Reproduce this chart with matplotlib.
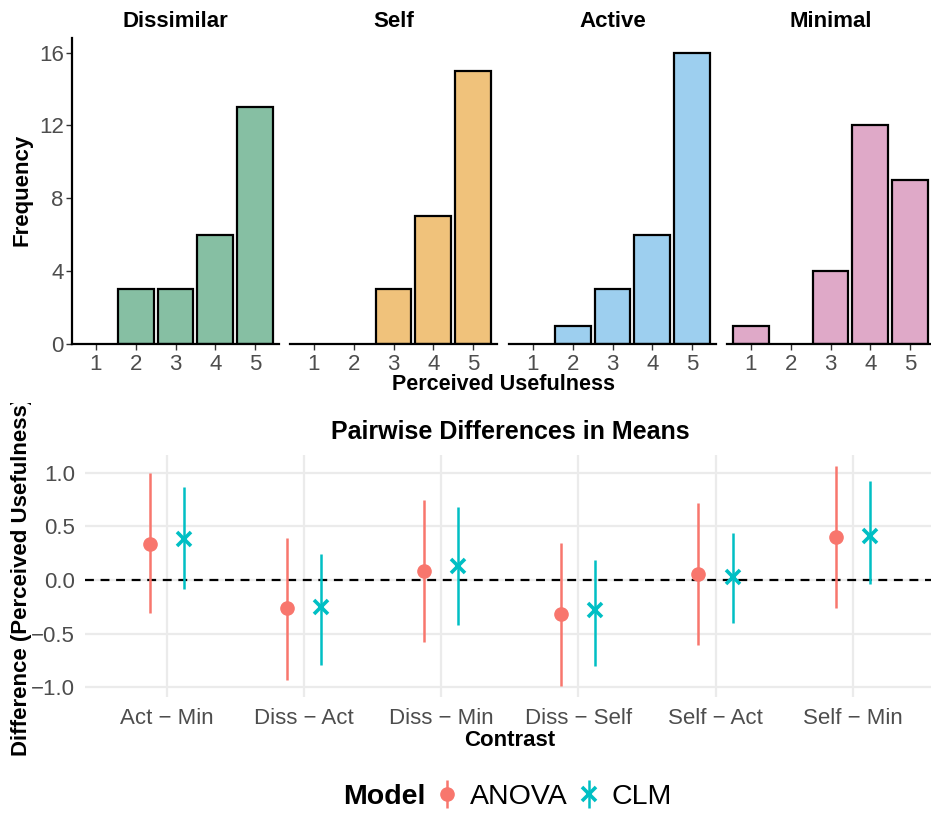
import numpy as np
import matplotlib
matplotlib.use("Agg")
import matplotlib.pyplot as plt
from matplotlib.transforms import Bbox, TransformedBbox

plt.rcParams['font.family'] = ['Liberation Sans', 'DejaVu Sans']

# ---- data ----
scores = [1, 2, 3, 4, 5]
conditions = ["Dissimilar", "Self", "Active", "Minimal"]
counts_dissimilar = [0, 3, 3, 6, 13]
counts_self = [0, 0, 3, 7, 15]
counts_active = [0, 1, 3, 6, 16]
counts_minimal = [1, 0, 4, 12, 9]
bar_colors = ["#86BFA3", "#F0C27B", "#9DCFEF", "#DFA9C8"]

contrasts = ["Act \u2212 Min", "Diss \u2212 Act", "Diss \u2212 Min",
             "Diss \u2212 Self", "Self \u2212 Act", "Self \u2212 Min"]
anova_est = [0.34, -0.265, 0.085, -0.32, 0.06, 0.405]
anova_lo = [-0.31, -0.93, -0.58, -0.99, -0.605, -0.265]
anova_hi = [1.00, 0.395, 0.745, 0.345, 0.715, 1.065]
clm_est = [0.385, -0.255, 0.135, -0.28, 0.03, 0.415]
clm_lo = [-0.085, -0.795, -0.42, -0.80, -0.405, -0.04]
clm_hi = [0.865, 0.24, 0.68, 0.19, 0.435, 0.925]

W, H = 931, 813
fig = plt.figure(figsize=(W / 100, H / 100), dpi=100)

def fx(x):
    return x / W

def fy(y):
    return 1 - y / H

grey = "#4D4D4D"

# ---- top: histograms ----
all_counts = [counts_dissimilar, counts_self, counts_active, counts_minimal]
lefts = [72, 290, 509, 727]
pw = 207
for i, (name, cnt, col) in enumerate(zip(conditions, all_counts, bar_colors)):
    ax = fig.add_axes([fx(lefts[i]), fy(344), pw / W, 306 / H])
    xs = [s for s, c in zip(scores, cnt) if c > 0]
    hs = [c for c in cnt if c > 0]
    ax.bar(xs, hs, width=0.9, color=col, edgecolor="black", linewidth=1.6)
    ax.set_xlim(0.4, 5.6)
    ax.set_ylim(0, 16.8)
    ax.set_xticks(scores)
    ax.tick_params(axis="x", length=4, width=1, color="#333333",
                   labelsize=16, labelcolor=grey, pad=3)
    for s in ["top", "right"]:
        ax.spines[s].set_visible(False)
    ax.spines["bottom"].set_linewidth(1.6)
    if i == 0:
        ax.set_yticks([0, 4, 8, 12, 16])
        ax.tick_params(axis="y", length=4, width=1, color="#333333",
                       labelsize=16, labelcolor=grey, pad=2)
        ax.spines["left"].set_linewidth(1.6)
    else:
        ax.spines["left"].set_visible(False)
        ax.set_yticks([])
    ax.set_title(name, fontsize=16, fontweight="bold", pad=8)

fig.text(fx(22), fy(190), "Frequency", rotation=90, ha="center", va="center",
         fontsize=16, fontweight="bold")
fig.text(fx(503), fy(384), "Perceived Usefulness", ha="center", va="center",
         fontsize=15.5, fontweight="bold")

# ---- bottom: pairwise differences ----
ax2 = fig.add_axes([fx(84.5), fy(697), (935 - 84.5) / W, (697 - 455) / H])
pos = np.arange(1, len(contrasts) + 1)
d = 0.125
eb1 = ax2.errorbar(pos - d, anova_est,
                   yerr=[np.array(anova_est) - np.array(anova_lo),
                         np.array(anova_hi) - np.array(anova_est)],
                   fmt="o", color="#F8766D", ms=9.5, elinewidth=1.8,
                   capsize=0, label="ANOVA", zorder=3)
eb2 = ax2.errorbar(pos + d, clm_est,
                   yerr=[np.array(clm_est) - np.array(clm_lo),
                         np.array(clm_hi) - np.array(clm_est)],
                   fmt="x", color="#00BFC4", ms=10, mew=2.6, elinewidth=1.8,
                   capsize=0, label="CLM", zorder=3)
ax2.axhline(0, color="black", linestyle=(0, (4, 3)), linewidth=1.6, zorder=2)
ax2.set_xlim(0.4, 6.6)
ax2.set_ylim(-1.093, 1.168)
ax2.set_xticks(pos)
ax2.set_xticklabels(contrasts)
ax2.set_yticks([-1.0, -0.5, 0.0, 0.5, 1.0])
ax2.set_yticklabels(["\u22121.0", "\u22120.5", "0.0", "0.5", "1.0"])
ax2.tick_params(length=0, labelsize=16, labelcolor=grey)
ax2.tick_params(axis="x", pad=8)
ax2.tick_params(axis="y", pad=7)
ax2.grid(True, color="#EBEBEB", linewidth=1.6, zorder=0)
ax2.set_axisbelow(True)
for s in ax2.spines.values():
    s.set_visible(False)

fig.text(fx(510), fy(432), "Pairwise Differences in Means", ha="center",
         va="center", fontsize=18, fontweight="bold")
fig.text(fx(510), fy(740), "Contrast", ha="center", va="center",
         fontsize=16, fontweight="bold")
ylab = fig.text(fx(22), fy(576), "Difference (Perceived Usefulness)",
                rotation=90, ha="center", va="center", fontsize=16,
                fontweight="bold")
ylab.set_clip_on(True)
ylab.set_clip_box(TransformedBbox(Bbox([[0, 0], [1, fy(403)]]), fig.transFigure))

# ---- legend ----
fig.text(fx(343), fy(797), "Model", ha="left", va="center", fontsize=20.5,
         fontweight="bold")
fig.legend(handles=[eb1, eb2], labels=["ANOVA", "CLM"], loc="center left",
           bbox_to_anchor=(fx(433), fy(797)), ncol=2, frameon=False,
           fontsize=20.5, handlelength=1.0, handletextpad=0.3,
           columnspacing=0.25, borderaxespad=0, borderpad=0)

fig.savefig("out.png", dpi=100)
